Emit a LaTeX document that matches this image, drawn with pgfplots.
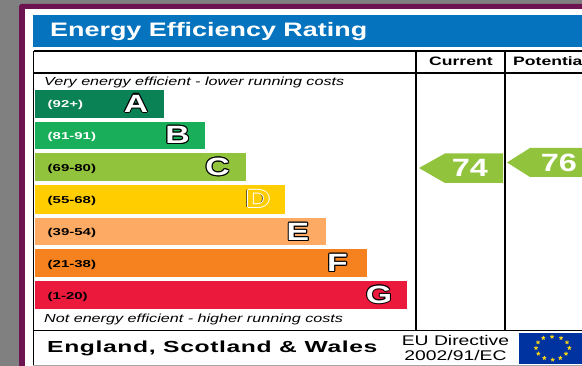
\documentclass[border=0pt]{standalone}
\usepackage{fontspec}
\usepackage{pgfplots}
\pgfplotsset{compat=1.18}
\setmainfont{Liberation Sans}
\newfontfamily\ftitle[FakeStretch=1.38]{Liberation Sans}
\newfontfamily\fletter[FakeStretch=1.35]{Liberation Sans}
\newfontfamily\fnum[FakeStretch=1.3]{Liberation Sans}
\newfontfamily\fhead[FakeStretch=1.44]{Liberation Sans}
\newfontfamily\fital[FakeStretch=1.38]{Liberation Sans}
\newfontfamily\frng[FakeStretch=1.5]{Liberation Sans}
\newfontfamily\feng[FakeStretch=1.54,LetterSpace=4]{Liberation Sans}
\newfontfamily\feu[FakeStretch=1.38]{Liberation Sans}
\definecolor{bggray}{RGB}{128,128,128}
\definecolor{framepurple}{RGB}{108,20,80}
\definecolor{titleblue}{RGB}{5,115,190}
\definecolor{bA}{RGB}{10,130,85}
\definecolor{bB}{RGB}{25,175,90}
\definecolor{bC}{RGB}{145,195,60}
\definecolor{bD}{RGB}{255,205,0}
\definecolor{bE}{RGB}{252,170,100}
\definecolor{bF}{RGB}{245,130,30}
\definecolor{bG}{RGB}{235,25,60}
\definecolor{flagblue}{RGB}{0,50,160}
\definecolor{staryellow}{RGB}{250,215,20}
\tikzset{lt/.style={text=#1,font=\fletter\bfseries\fontsize{25}{25}\selectfont,inner sep=0pt}}
\newcommand{\outl}[3]{%
 \node[lt=black,xshift=-1.1pt] at (axis cs:#1,#2) {#3};%
 \node[lt=black,xshift=1.1pt] at (axis cs:#1,#2) {#3};%
 \node[lt=black,yshift=-1.1pt] at (axis cs:#1,#2) {#3};%
 \node[lt=black,yshift=1.1pt] at (axis cs:#1,#2) {#3};%
 \node[lt=black,xshift=-0.8pt,yshift=-0.8pt] at (axis cs:#1,#2) {#3};%
 \node[lt=black,xshift=0.8pt,yshift=-0.8pt] at (axis cs:#1,#2) {#3};%
 \node[lt=black,xshift=-0.8pt,yshift=0.8pt] at (axis cs:#1,#2) {#3};%
 \node[lt=black,xshift=0.8pt,yshift=0.8pt] at (axis cs:#1,#2) {#3};%
 \node[lt=white] at (axis cs:#1,#2) {#3};}
\newcommand{\outlD}[3]{%
 \node[lt=black!80,xshift=-1.8pt] at (axis cs:#1,#2) {#3};%
 \node[lt=white,xshift=-1pt] at (axis cs:#1,#2) {#3};%
 \node[lt=white,xshift=1pt] at (axis cs:#1,#2) {#3};%
 \node[lt=white,yshift=-1pt] at (axis cs:#1,#2) {#3};%
 \node[lt=white,yshift=1pt] at (axis cs:#1,#2) {#3};%
 \node[lt=bD] at (axis cs:#1,#2) {#3};}
\newcommand{\rng}[3]{\node[anchor=base west,text=#3,font=\frng\bfseries\fontsize{10}{10}\selectfont,inner sep=0pt] at (axis cs:47.5,#1) {#2};}
\begin{document}
\begin{tikzpicture}
\begin{axis}[
 scale only axis,width=582pt,height=366pt,
 xmin=0,xmax=582,ymin=0,ymax=366,y dir=reverse,
 hide axis,clip=true]
% background
\addplot[fill=bggray,draw=none] coordinates {(0,0)(582,0)(582,366)(0,366)} --cycle;
\addplot[fill=framepurple,draw=none] coordinates {(19,6)(21,4)(582,4)(582,366)(19,366)} --cycle;
\addplot[fill=white,draw=none] coordinates {(25,9)(582,9)(582,366)(25,366)} --cycle;
% title
\addplot[fill=titleblue,draw=none] coordinates {(33,15)(582,15)(582,47)(33,47)} --cycle;
% bars
\addplot[fill=bA,draw=none] coordinates {(35,90)(164,90)(164,118)(35,118)} --cycle;
\addplot[fill=bB,draw=none] coordinates {(35,122)(204.5,122)(204.5,149.5)(35,149.5)} --cycle;
\addplot[fill=bC,draw=none] coordinates {(35,153.5)(245.5,153.5)(245.5,181)(35,181)} --cycle;
\addplot[fill=bD,draw=none] coordinates {(35,185)(285,185)(285,214)(35,214)} --cycle;
\addplot[fill=bE,draw=none] coordinates {(35,218)(326,218)(326,245.5)(35,245.5)} --cycle;
\addplot[fill=bF,draw=none] coordinates {(35,249.5)(367,249.5)(367,277)(35,277)} --cycle;
\addplot[fill=bG,draw=none] coordinates {(35,281)(407,281)(407,309.5)(35,309.5)} --cycle;
% arrows
\addplot[fill=bC,draw=none] coordinates {(419,168)(445,153.5)(503,153.5)(503,183)(445,183)} --cycle;
\addplot[fill=bC,draw=none] coordinates {(507,162.5)(530,148)(582,148)(582,177)(530,177)} --cycle;
% table lines
\addplot[black,line width=1.2pt] coordinates {(33.5,51)(582,51)};
\addplot[black,line width=1.2pt] coordinates {(33.5,73)(582,73)};
\addplot[black,line width=1.2pt] coordinates {(33.5,330.5)(582,330.5)};
\addplot[black,line width=1.2pt] coordinates {(33.5,51)(33.5,366)};
\addplot[black,line width=1.4pt] coordinates {(416,51)(416,330.5)};
\addplot[black,line width=1.4pt] coordinates {(505,51)(505,330.5)};
\addplot[bggray!70,line width=1pt] coordinates {(33,365.7)(582,365.7)};
% flag
\addplot[fill=flagblue,draw=none] coordinates {(519,333)(582,333)(582,364)(519,364)} --cycle;
\addplot[only marks,mark=star,mark size=2pt,staryellow,mark options={fill=staryellow,line width=0.9pt}] coordinates {
 (552,336.7)(561,338)(567,342.3)(569.3,348)(566,353.7)(560.3,358)(552.7,359.7)(544.3,358)(538.3,353.7)(536,348)(538,342.3)(543.3,338)};
% texts
\node[anchor=base west,text=white,font=\ftitle\bfseries\fontsize{19.5}{19.5}\selectfont,inner sep=0pt] at (axis cs:50,37) {Energy Efficiency Rating};
\node[anchor=base west,font=\fhead\bfseries\fontsize{12.2}{12.2}\selectfont,inner sep=0pt] at (axis cs:429,66) {Current};
\node[anchor=base west,font=\fhead\bfseries\fontsize{12.2}{12.2}\selectfont,inner sep=0pt] at (axis cs:513,66) {Potential};
\node[anchor=base west,font=\fital\itshape\fontsize{11.7}{11.7}\selectfont,inner sep=0pt] at (axis cs:44,86) {Very energy efficient - lower running costs};
\node[anchor=base west,font=\fital\itshape\fontsize{11.7}{11.7}\selectfont,inner sep=0pt] at (axis cs:44,323) {Not energy efficient - higher running costs};
\rng{108}{(92+)}{white}
\rng{140}{(81-91)}{white}
\rng{172}{(69-80)}{black}
\rng{204}{(55-68)}{black}
\rng{236}{(39-54)}{black}
\rng{268}{(21-38)}{black}
\rng{300}{(1-20)}{black}
\outl{136}{103.5}{A}
\outl{177.5}{135}{B}
\outl{217.5}{167}{C}
\outlD{258}{199}{D}
\outl{298}{232}{E}
\outl{337.5}{263}{F}
\outl{379}{294.5}{G}
\node[text=white,font=\fnum\bfseries\fontsize{25}{25}\selectfont,inner sep=0pt] at (axis cs:470,168) {74};
\node[text=white,font=\fnum\bfseries\fontsize{25}{25}\selectfont,inner sep=0pt] at (axis cs:559,162.5) {76};
\node[anchor=base west,font=\feng\bfseries\fontsize{16}{16}\selectfont,inner sep=0pt] at (axis cs:47,353) {England, Scotland \& Wales};
\node[anchor=base,font=\feu\fontsize{14}{14}\selectfont,inner sep=0pt] at (axis cs:455.5,346) {EU Directive};
\node[anchor=base,font=\feu\fontsize{14}{14}\selectfont,inner sep=0pt] at (axis cs:455.5,361) {2002/91/EC};
\end{axis}
\end{tikzpicture}
\end{document}
